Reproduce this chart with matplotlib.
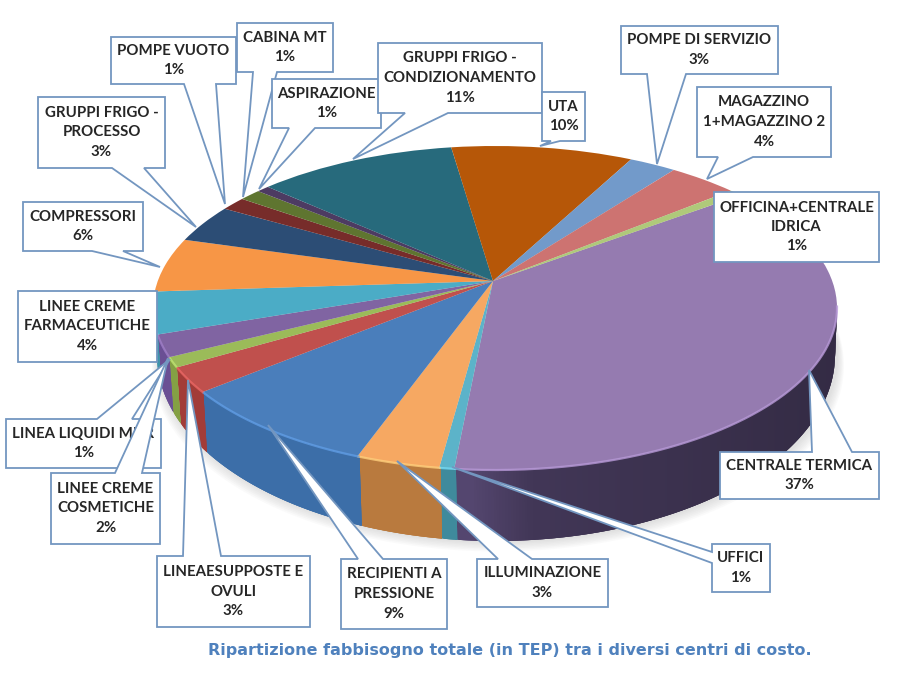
import numpy as np, matplotlib
matplotlib.use('Agg')
import matplotlib.pyplot as plt
from matplotlib.transforms import Transform
from matplotlib.patches import Polygon
from matplotlib.colors import to_rgb

# ---- data (clockwise from the officina/centrale termica boundary) ----
categories = ["CENTRALE TERMICA", "UFFICI", "ILLUMINAZIONE", "RECIPIENTI A\nPRESSIONE",
              "LINEAESUPPOSTE E\nOVULI", "LINEA LIQUIDI MDR", "LINEE CREME\nCOSMETICHE",
              "LINEE CREME\nFARMACEUTICHE", "COMPRESSORI", "GRUPPI FRIGO -\nPROCESSO",
              "POMPE VUOTO", "CABINA MT", "ASPIRAZIONE",
              "GRUPPI FRIGO -\nCONDIZIONAMENTO", "UTA", "POMPE DI SERVIZIO",
              "MAGAZZINO\n1+MAGAZZINO 2", "OFFICINA+CENTRALE\nIDRICA"]
values = [36.8, 0.6, 3.4, 8.6, 2.5, 1.0, 2.2, 4.2, 5.5, 3.9, 1.4, 1.2, 0.7, 11.1, 10.1, 2.6, 3.8, 0.7]
percent_labels = ["37%", "1%", "3%", "9%", "3%", "1%", "2%", "4%", "6%", "3%", "1%", "1%", "1%",
                  "11%", "10%", "3%", "4%", "1%"]
top_colors = ["#957BB0", "#5CB3C9", "#F6A862", "#4A7EBB", "#C0504D", "#9BBB59", "#8064A2", "#4BACC6",
              "#F79646", "#2C4D75", "#772C2A", "#5F7530", "#4D3B62", "#276A7C", "#B65708",
              "#729ACA", "#CD7371", "#AFC97A"]
side_colors = ["#54466F", "#3F8A9C", "#B97A3E", "#3C6EA8", "#A23C38", "#84A044", "#6A4F94", "#3E93AA",
               "#D07D35", "#24406A", "#632422", "#4F6228", "#3F3050", "#205866", "#984906",
               "#5F80A8", "#AA605E", "#92A866"]
title = "Ripartizione fabbisogno totale (in TEP) tra i diversi centri di costo."

# ---- callout layout in picture pixels: box, tail edge, tail base a, tail base b, tip ----
callouts = [
    ("CENTRALE TERMICA", (720, 452, 879, 499), "t", 812, 852, (809, 370)),
    ("UFFICI", (712, 544, 770, 592), "l", 552, 563, (452, 467)),
    ("ILLUMINAZIONE", (477, 559, 608, 607), "t", 498, 532, (397, 461)),
    ("RECIPIENTI A\nPRESSIONE", (341, 559, 447, 629), "t", 358, 383, (268, 425)),
    ("LINEAESUPPOSTE E\nOVULI", (157, 556, 310, 627), "t", 183, 221, (188, 380)),
    ("LINEA LIQUIDI MDR", (6, 419, 161, 468), "t", 97, 132, (170, 359)),
    ("LINEE CREME\nCOSMETICHE", (51, 473, 160, 544), "t", 115, 142, (168, 358)),
    ("LINEE CREME\nFARMACEUTICHE", (18, 291, 157, 362), None, 0, 0, None),
    ("COMPRESSORI", (23, 202, 143, 251), "b", 92, 123, (160, 267)),
    ("GRUPPI FRIGO -\nPROCESSO", (38, 97, 165, 168), "b", 112, 144, (196, 227)),
    ("POMPE VUOTO", (111, 37, 236, 84), "b", 184, 216, (225, 204)),
    ("CABINA MT", (237, 23, 333, 72), "b", 253, 277, (243, 197)),
    ("ASPIRAZIONE", (272, 79, 381, 128), "b", 289, 315, (259, 189)),
    ("GRUPPI FRIGO -\nCONDIZIONAMENTO", (378, 43, 542, 113), "b", 405, 448, (353, 159)),
    ("UTA", (542, 92, 585, 141), "b", 551, 560, (540, 146)),
    ("POMPE DI SERVIZIO", (621, 26, 778, 74), "b", 647, 686, (657, 164)),
    ("MAGAZZINO\n1+MAGAZZINO 2", (697, 87, 831, 157), "b", 718, 753, (707, 179)),
    ("OFFICINA+CENTRALE\nIDRICA", (714, 192, 879, 262), None, 0, 0, None),
]

# ---- projection of the unit-circle pie on to the tilted disc ----
CX, CY, RX, RY = 495, 308, 342, 162      # top ellipse
APEX = (493, 281)                        # where the slices meet
LOWER = (496, 355, 339, 186)             # outline of the bottom of the wall
START = 36.6

_p = np.array([(APEX[0] - CX) / RX, (CY - APEX[1]) / RY])
_b = np.hypot(*_p); _g = 1 / np.sqrt(1 - _b ** 2); _n = _p / _b


class TiltedDisc(Transform):
    input_dims = output_dims = 2
    is_separable = False
    has_inverse = False

    def transform_non_affine(self, v):
        v = np.asarray(v, float)
        d = v @ _n
        X = v + (((_g - 1) * d + _g * _b))[:, None] * _n
        T = _g * (1 + _b * d)
        return np.column_stack([CX + RX * X[:, 0] / T, CY - RY * X[:, 1] / T])


fig = plt.figure(figsize=(8.99, 6.75), dpi=100)
ax = fig.add_axes([0, 0, 1, 1])

disc = TiltedDisc()
wedges, _ = ax.pie(values, colors=top_colors, startangle=START, counterclock=False,
                   wedgeprops=dict(linewidth=0))
for w in wedges:
    w.set_transform(disc + ax.transData)
    w.set_zorder(5)
ax.set_aspect('auto')
ax.set_xlim(0, 899); ax.set_ylim(675, 0)
ax.axis('off')

# soft shadow under the wall
tt = np.linspace(0, 2 * np.pi, 300)
for k in range(1, 8):
    ax.fill(LOWER[0] + 2 + (LOWER[2] + k) * np.cos(tt), LOWER[1] + k * 1.5 + LOWER[3] * np.sin(tt),
            color='#808080', alpha=0.035, lw=0, zorder=1)


def darker(c, f):
    return tuple(min(1, x * f) for x in to_rgb(c))


# wall and rim, one strip per slice, from the same slice angles as the pie
angles = START - 360 * np.cumsum([0] + values) / np.sum(values)
for i in range(len(values)):
    th = np.radians(np.arange(angles[i + 1], angles[i] + 0.4, 0.4))
    xy = disc.transform_non_affine(np.column_stack([np.cos(th), np.sin(th)]))
    s = (xy[:, 1] - CY) / RY
    c = (xy[:, 0] - CX) / RX
    t = np.arctan2(s, c)
    front = np.sin(t) > -0.02
    if front.sum() < 2:
        continue
    t = t[front]; xy = xy[front]
    lx = LOWER[0] + LOWER[2] * np.cos(t)
    ly = LOWER[1] + LOWER[3] * np.sin(t)
    n_pts = len(t)
    for j in range(n_pts - 1):
        k = min(j + 3, n_pts - 1)          # overlap the next strips so no seams show
        f = np.interp(xy[j, 0], [470, 530, 830], [1.0, 0.78, 0.62])
        ax.fill([xy[j, 0], xy[k, 0], lx[k], lx[j]],
                [xy[j, 1], xy[k, 1], ly[k], ly[j]],
                color=darker(side_colors[i], f), lw=0, zorder=2)
    rim = tuple(min(1, x * 1.18 + 0.03) for x in to_rgb(top_colors[i]))
    ax.plot(xy[:, 0], xy[:, 1], color=rim, lw=1.6, alpha=0.8, zorder=6, solid_capstyle='butt')


def box_poly(box, side, a, b, tip):
    x0, y0, x1, y1 = box
    pts = [(x0, y0)]
    if side == "t":
        pts += [(a, y0), tip, (b, y0)]
    pts.append((x1, y0)); pts.append((x1, y1))
    if side == "b":
        pts += [(b, y1), tip, (a, y1)]
    pts.append((x0, y1))
    if side == "l":
        pts += [(x0, b), tip, (x0, a)]
    return pts


pct = dict(zip(categories, percent_labels))
for n, (name, box, side, a, b, tip) in enumerate(callouts):
    z = 10 + n * 0.1
    if name.startswith("POMPE VUOTO"):
        z = 10.9
    if name == "CABINA MT":
        z = 11.0
    if name == "ASPIRAZIONE":
        z = 11.1
    ax.add_patch(Polygon(box_poly(box, side, a, b, tip), closed=True, facecolor='white',
                         edgecolor='#7396C0', lw=1.3, zorder=z, joinstyle='miter'))
    ax.text((box[0] + box[2]) / 2, (box[1] + box[3]) / 2, name + "\n" + pct[name],
            ha='center', va='center', family='Lato', weight='bold', fontsize=10.85,
            color='#262626', linespacing=1.5, zorder=z + 0.01)

ax.text(510, 651, title, ha='center', va='center', family='DejaVu Sans', weight='bold',
        fontsize=11.5, color='#4F81BD', zorder=20)

fig.savefig('out.png', dpi=100)
